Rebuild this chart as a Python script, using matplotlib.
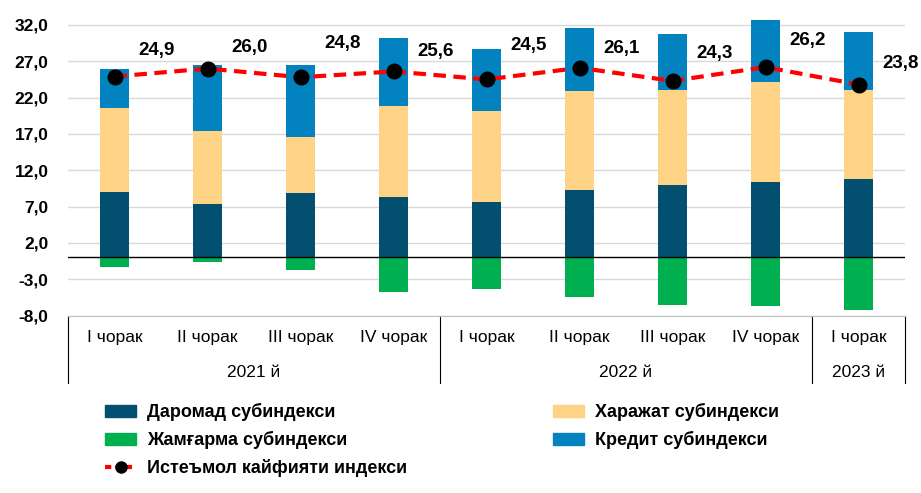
import numpy as np
import matplotlib.pyplot as plt
from matplotlib.patches import Patch
from matplotlib.lines import Line2D
from matplotlib import font_manager

# data
quarters = ["I чорак", "II чорак", "III чорак", "IV чорак",
            "I чорак", "II чорак", "III чорак", "IV чорак", "I чорак"]
years = ["2021 й", "2022 й", "2023 й"]
year_spans = [(0, 3), (4, 7), (8, 8)]
income = [9.0, 7.4, 8.8, 8.3, 7.6, 9.3, 10.0, 10.4, 10.8]
spending = [11.6, 10.0, 7.8, 12.6, 12.5, 13.6, 13.0, 13.8, 12.2]
savings = [-1.3, -0.7, -1.8, -4.8, -4.3, -5.5, -6.5, -6.7, -7.3]
credit = [5.4, 9.1, 9.9, 9.3, 8.6, 8.7, 7.7, 8.5, 8.0]
index = [24.9, 26.0, 24.8, 25.6, 24.5, 26.1, 24.3, 26.2, 23.8]
yticks = [32, 27, 22, 17, 12, 7, 2, -3, -8]

# label offsets in pixels (up from the dot)
lbl_dy = [26, 21, 34, 20, 34, 19, 27, 27, 21]

names = [f.name for f in font_manager.fontManager.ttflist]
narrow = "Liberation Sans Narrow" if "Liberation Sans Narrow" in names else "Liberation Sans"
plt.rcParams["font.family"] = ["Liberation Sans", "DejaVu Sans"]

c_income = "#024F70"
c_spend = "#FED386"
c_save = "#00AF50"
c_credit = "#0283BF"

fig = plt.figure(figsize=(9.21, 4.93), dpi=100)
ax = fig.add_axes([68 / 921, 1 - 315.5 / 493, 837 / 921, 297.8 / 493])

x = np.arange(len(quarters))
w = 0.31
inc = np.array(income)
sp = np.array(spending)
ax.bar(x, income, w, color=c_income, zorder=2)
ax.bar(x, spending, w, bottom=inc, color=c_spend, zorder=2)
ax.bar(x, credit, w, bottom=inc + sp, color=c_credit, zorder=2)
ax.bar(x, savings, w, color=c_save, zorder=2)

ax.plot(x, index, color="#FF0000", lw=3, dashes=(3, 1.8), zorder=3)
ax.plot(x, index, "o", color="black", ms=10.5, zorder=4)
for i, v in enumerate(index):
    ax.annotate(f"{v:.1f}".replace(".", ","), (x[i], v), xytext=(42 * 0.72, lbl_dy[i] * 0.72),
                textcoords="offset points", ha="center", va="center",
                fontsize=13.5, fontweight="bold", zorder=5)

ax.axhline(0, color="black", lw=1, zorder=3)
ax.set_xlim(-0.5, len(quarters) - 0.5)
ax.set_ylim(-8, 33)
ax.set_yticks(yticks)
ax.set_yticklabels([f"{t:.1f}".replace(".", ",") for t in yticks],
                   fontsize=12.5, fontweight="bold")
ax.tick_params(axis="y", length=0, pad=14)
ax.set_xticks([])
ax.grid(axis="y", color="#D9D9D9", lw=1, zorder=0)
for s in ["top", "right", "left"]:
    ax.spines[s].set_visible(False)
ax.spines["bottom"].set_color("#BFBFBF")

# category labels
tr = ax.get_xaxis_transform()
for i, q in enumerate(quarters):
    ax.text(x[i], -0.0755, q, transform=tr, ha="center", va="center",
            fontsize=12.5, family=[narrow, "DejaVu Sans"])
for (a, b), yl in zip(year_spans, years):
    ax.text((a + b) / 2, -0.193, yl, transform=tr, ha="center", va="center",
            fontsize=12.5, family=[narrow, "DejaVu Sans"])
for sx in [-0.5, 3.5, 7.5, 8.5]:
    ax.plot([sx, sx], [0, -0.227], transform=tr, color="black", lw=0.8, clip_on=False)

handles = [Patch(color=c_income), Patch(color=c_save),
           Line2D([], [], color="#FF0000", lw=3, dashes=(1.5, 1), marker="o",
                  mfc="black", mec="black", ms=8),
           Patch(color=c_spend), Patch(color=c_credit)]
labels = ["Даромад субиндекси", "Жамғарма субиндекси", "Истеъмол кайфияти индекси",
          "Харажат субиндекси", "Кредит субиндекси"]
fig.legend(handles, labels, ncol=2, loc="upper left", bbox_to_anchor=(89 / 921, 1 - 387 / 493),
           frameon=False, prop={"weight": "bold", "size": 13}, handlelength=1.7,
           handleheight=0.7, handletextpad=0.6, columnspacing=8.1, labelspacing=0.55)

fig.savefig("out.png", dpi=100)
